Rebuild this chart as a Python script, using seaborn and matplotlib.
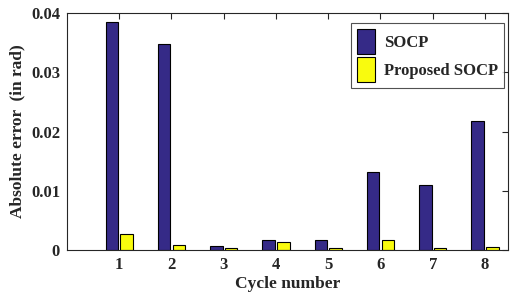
import pandas as pd
import seaborn as sns
import matplotlib.pyplot as plt

# Dados
ciclos = ['1', '2', '3', '4', '5', '6', '7', '8']
erro_socp = [0.0385, 0.0348, 0.0007, 0.0017, 0.0017, 0.0132, 0.0110, 0.0218]
erro_proposto = [0.00275, 0.0008, 0.0003, 0.0013, 0.0003, 0.0017, 0.0004, 0.0005]
series = ['SOCP', 'Proposed SOCP']

df = pd.DataFrame({
    'ciclo': ciclos * 2,
    'erro': erro_socp + erro_proposto,
    'metodo': [series[0]] * len(ciclos) + [series[1]] * len(ciclos),
})

sns.set_theme(style='white')
plt.rcParams['font.family'] = ['Liberation Serif', 'DejaVu Serif']
plt.rcParams['font.weight'] = 'bold'

fig = plt.figure(figsize=(5.13, 2.99), dpi=100)
ax = fig.add_axes([0.1306, 0.1639, 0.8596, 0.7926])

sns.barplot(
    data=df,
    x='ciclo',
    y='erro',
    hue='metodo',
    palette=['#352a87', '#f9fb0e'],
    saturation=1,
    width=0.56,
    gap=0.15,
    edgecolor='black',
    linewidth=0.8,
    ax=ax
)

ax.set_xlim(-1, 7.44)
ax.set_ylim(0, 0.04)
ax.set_yticks([0, 0.01, 0.02, 0.03, 0.04])
ax.set_yticklabels(['0', '0.01', '0.02', '0.03', '0.04'])
ax.set_xlabel('Cycle number', fontsize=12.5, fontweight='bold', labelpad=2)
ax.set_ylabel('Absolute error  (in rad)', fontsize=12.5, fontweight='bold', labelpad=4)

for s in ax.spines.values():
    s.set_color('#262626')
    s.set_linewidth(0.8)
ax.tick_params(direction='in', length=4, width=0.8, top=True, right=True,
               labelsize=12, color='#262626', pad=5)
for lbl in ax.get_xticklabels() + ax.get_yticklabels():
    lbl.set_fontweight('bold')

leg = ax.legend(
    loc='upper right',
    bbox_to_anchor=(0.998, 0.97),
    fontsize=12,
    frameon=True,
    fancybox=False,
    edgecolor='#262626',
    handlelength=1.1,
    handleheight=1.9,
    handletextpad=0.5,
    borderpad=0.35,
    labelspacing=0.2,
    borderaxespad=0.2,
)
leg.get_frame().set_linewidth(0.8)
for t in leg.get_texts():
    t.set_fontweight('bold')

fig.savefig('out.png', dpi=100)
